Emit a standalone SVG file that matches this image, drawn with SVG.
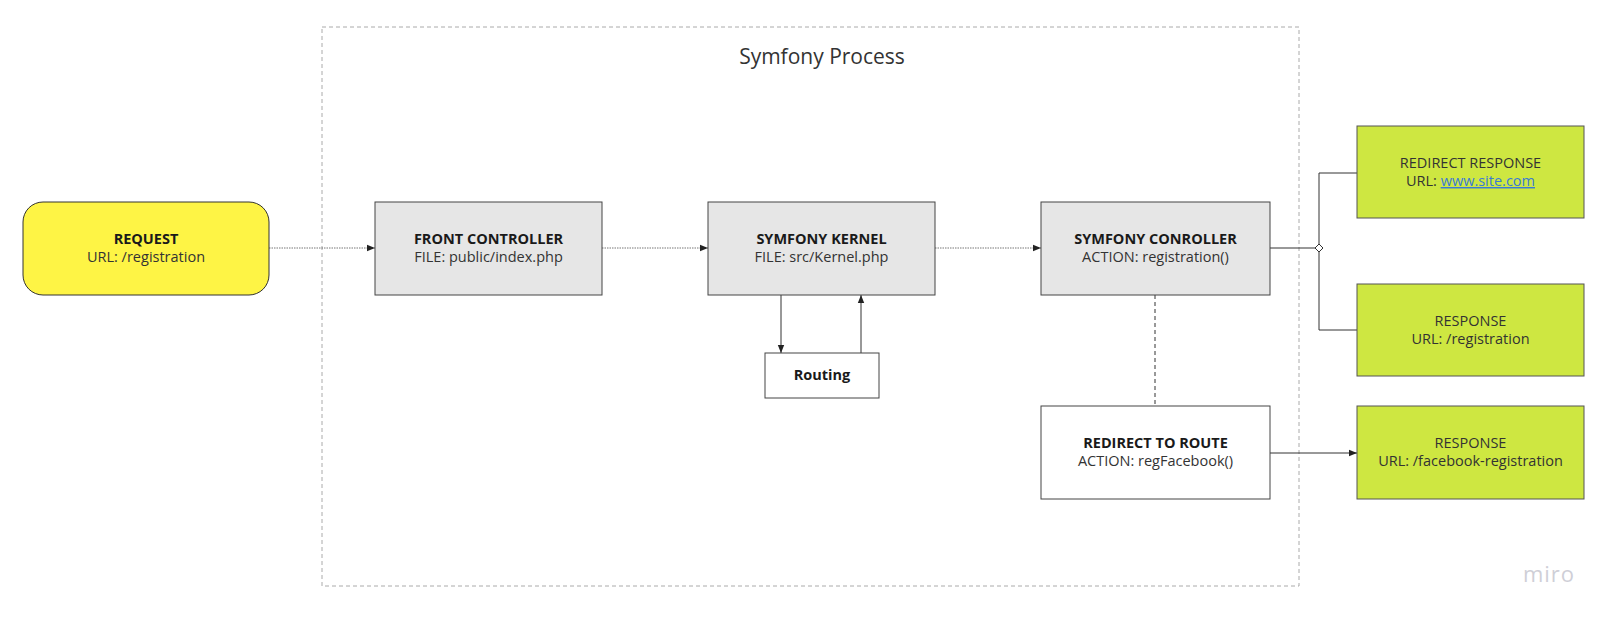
<svg xmlns="http://www.w3.org/2000/svg" width="1612" height="620" viewBox="0 0 1612 620">
<style>
text{font-family:"Open Sans","Noto Sans","Liberation Sans",sans-serif;font-size:14.5px;fill:#333;text-anchor:middle}
.b{font-weight:bold;fill:#1a1a1a}
.grey{fill:#e6e6e6;stroke:#444;stroke-width:1}
.white{fill:#fff;stroke:#444;stroke-width:1}
.green{fill:#cee741;stroke:#555;stroke-width:1}
.thin{fill:none;stroke:#666;stroke-width:0.9;stroke-dasharray:1.5 1}
.solid{fill:none;stroke:#333;stroke-width:1}
</style>
<defs>
<marker id="arr" viewBox="0 0 10 10" refX="10" refY="5" markerWidth="8" markerHeight="8" markerUnits="userSpaceOnUse" orient="auto">
<path d="M0,1 L10,5 L0,9 z" fill="#222"/>
</marker>
</defs>
<rect width="1612" height="620" fill="#fff"/>
<g id="container">
<rect x="322" y="27" width="977" height="559" fill="none" stroke="#aaa" stroke-width="1" stroke-dasharray="4 3"/>
<text x="822" y="64" style="font-size:21px;fill:#333">Symfony Process</text>
</g>
<g id="connectors">
<line class="thin" x1="269" y1="248" x2="375" y2="248" marker-end="url(#arr)"/>
<line class="thin" x1="602" y1="248" x2="708" y2="248" marker-end="url(#arr)"/>
<line class="thin" x1="935" y1="248" x2="1041" y2="248" marker-end="url(#arr)"/>
<line class="solid" x1="781" y1="295" x2="781" y2="353" marker-end="url(#arr)"/>
<line class="solid" x1="861" y1="353" x2="861" y2="295" marker-end="url(#arr)"/>
<line class="solid" x1="1155" y1="295" x2="1155" y2="406" stroke-dasharray="4 3"/>
<line class="solid" x1="1270" y1="248" x2="1315" y2="248"/>
<path class="solid" d="M1357,173 H1319 V330 H1357"/>
<path d="M1319,244 L1323,248 L1319,252 L1315,248 z" fill="#fff" stroke="#333" stroke-width="1"/>
<line class="solid" x1="1270" y1="453" x2="1357" y2="453" marker-end="url(#arr)"/>
</g>
<g id="request">
<rect x="23" y="202" width="246" height="93" rx="20" fill="#fef445" stroke="#333" stroke-width="1"/>
<text class="b" x="146" y="244">REQUEST</text>
<text x="146" y="262">URL: /registration</text>
</g>
<g id="front-controller">
<rect class="grey" x="375" y="202" width="227" height="93"/>
<text class="b" x="488.5" y="244">FRONT CONTROLLER</text>
<text x="488.5" y="262">FILE: public/index.php</text>
</g>
<g id="symfony-kernel">
<rect class="grey" x="708" y="202" width="227" height="93"/>
<text class="b" x="821.5" y="244">SYMFONY KERNEL</text>
<text x="821.5" y="262">FILE: src/Kernel.php</text>
</g>
<g id="symfony-controller">
<rect class="grey" x="1041" y="202" width="229" height="93"/>
<text class="b" x="1155.5" y="244">SYMFONY CONROLLER</text>
<text x="1155.5" y="262">ACTION: registration()</text>
</g>
<g id="routing">
<rect class="white" x="765" y="353" width="114" height="45"/>
<text class="b" x="822" y="380">Routing</text>
</g>
<g id="redirect-to-route">
<rect class="white" x="1041" y="406" width="229" height="93"/>
<text class="b" x="1155.5" y="448">REDIRECT TO ROUTE</text>
<text x="1155.5" y="466">ACTION: regFacebook()</text>
</g>
<g id="redirect-response">
<rect class="green" x="1357" y="126" width="227" height="92"/>
<text x="1470.5" y="168">REDIRECT RESPONSE</text>
<text x="1470.5" y="186">URL: <tspan fill="#3a7bd5" text-decoration="underline">www.site.com</tspan></text>
</g>
<g id="response-registration">
<rect class="green" x="1357" y="284" width="227" height="92"/>
<text x="1470.5" y="326">RESPONSE</text>
<text x="1470.5" y="344">URL: /registration</text>
</g>
<g id="response-facebook">
<rect class="green" x="1357" y="406" width="227" height="93"/>
<text x="1470.5" y="448">RESPONSE</text>
<text x="1470.5" y="466">URL: /facebook-registration</text>
</g>
<text x="1549" y="582" style="font-size:22px;fill:#cfcfd7;letter-spacing:1px">miro</text>
</svg>
